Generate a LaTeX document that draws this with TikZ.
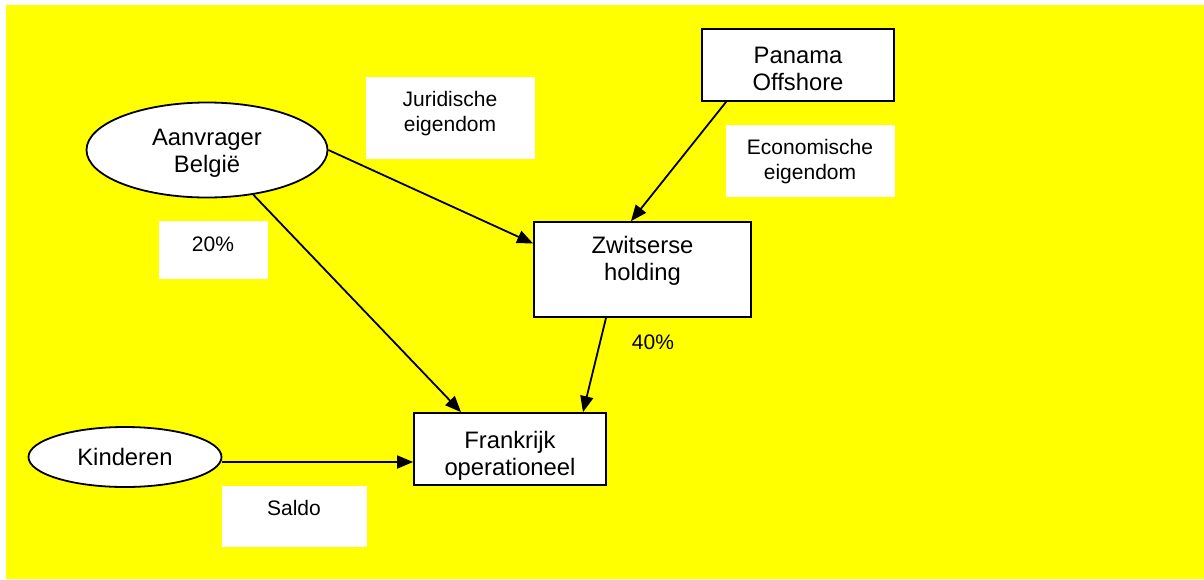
\documentclass[tikz,border=0pt]{standalone}
\usepackage{fontspec}
\setmainfont{Liberation Sans}
\usetikzlibrary{shapes.geometric,arrows.meta,calc}

\definecolor{sheetyellow}{RGB}{255,255,0}

\tikzset{
  entity/.style={draw=black, fill=white, line width=1.8pt, inner sep=0pt},
  boxnode/.style={entity, rectangle},
  ovalnode/.style={entity, ellipse},
  entitytext/.style={align=center, inner sep=0pt, font=\fontsize{23.8}{27}\selectfont},
  notebox/.style={fill=white, draw=none, inner sep=0pt},
  notetext/.style={align=center, inner sep=0pt, font=\fontsize{21}{25}\selectfont},
  link/.style={line width=1.8pt, -{Triangle[length=16pt,width=13pt]}}
}

\begin{document}
\begin{tikzpicture}[x=1pt, y=-1pt]
  \useasboundingbox (0,0) rectangle (1204,579);
  \fill[sheetyellow] (6,5) rectangle (1204,579);

  % white label panels
  \node[notebox, minimum width=169pt, minimum height=82pt] (jurbox) at (450.5,118) {};
  \node[notetext] (jur) at (450,113.5) {Juridische\\eigendom};
  \node[notebox, minimum width=169pt, minimum height=72pt] (ecobox) at (810.5,161) {};
  \node[notetext] (eco) at (810,161.5) {Economische\\eigendom};
  \node[notebox, minimum width=109pt, minimum height=58pt] (pctbox) at (213.5,250) {};
  \node[notetext] (pct) at (213,244) {20\%};
  \node[notebox, minimum width=145pt, minimum height=61pt] (saldobox) at (294.5,516.5) {};
  \node[notetext] (saldo) at (294,508) {Saldo};
  \node[notetext] (pcthold) at (653,342) {40\%};

  % entities
  \node[ovalnode, minimum width=241pt, minimum height=95pt] (aan) at (207,150) {};
  \node[entitytext] (aantext) at (207,153.5) {Aanvrager\\België};
  \node[ovalnode, minimum width=193pt, minimum height=60pt] (kin) at (125,457) {};
  \node[entitytext] (kintext) at (125,457) {Kinderen};
  \node[boxnode, minimum width=192pt, minimum height=72pt] (pan) at (798,65) {};
  \node[entitytext] (pantext) at (798,69) {Panama\\Offshore};
  \node[boxnode, minimum width=217pt, minimum height=95pt] (zw) at (642.5,269.5) {};
  \node[entitytext] (zwtext) at (642.5,261) {Zwitserse\\holding};
  \node[boxnode, minimum width=192pt, minimum height=72pt] (fr) at (510,449) {};
  \node[entitytext] (frtext) at (510,455.5) {Frankrijk\\operationeel};

  % ownership links
  \draw[link] (aan.east) -- ($(zw.west)+(0,-26)$);
  \draw[link] (aan.-44) -- ($(fr.north)+(-49,0)$);
  \draw[link] ($(pan.south west)+(25,0)$) -- ($(zw.north)+(-11.5,0)$);
  \draw[link] ($(zw.south)+(-36.5,0)$) -- ($(fr.north)+(73,0)$);
  \draw[link] ($(kin.east)+(0,5)$) -- ($(fr.west)+(0,13)$);
\end{tikzpicture}
\end{document}
